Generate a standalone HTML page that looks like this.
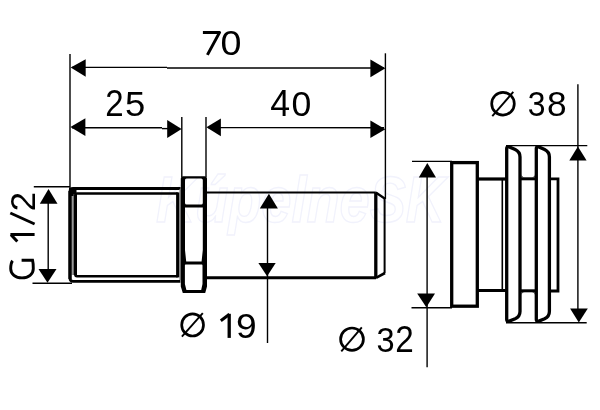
<!DOCTYPE html>
<html><head><meta charset="utf-8"><style>
html,body{margin:0;padding:0;background:#fff;}
svg{display:block;will-change:transform;}
text{font-family:"Liberation Sans",sans-serif;font-size:36px;fill:#000;}
</style></head><body>
<svg width="600" height="410" viewBox="0 0 600 410">
<rect width="600" height="410" fill="#fff"/>

<!-- watermark -->
<text x="156" y="222" textLength="289" lengthAdjust="spacingAndGlyphs" style="font-size:64px;font-weight:bold;font-style:italic;fill:none;stroke:#f1f2fc;stroke-width:1.4">KúpelneSK</text>

<!-- ===== dimension lines (thin) ===== -->
<g stroke="#000" stroke-width="1.4" fill="none">
  <!-- 70 -->
  <line x1="72" y1="67.4" x2="167" y2="67.4"/>
  <line x1="167" y1="68" x2="384" y2="68"/>
  <!-- 25 -->
  <line x1="72" y1="127.7" x2="162" y2="127.7"/>
  <line x1="162" y1="128.6" x2="180" y2="128.6"/>
  <!-- 40 -->
  <line x1="208" y1="127.6" x2="384" y2="127.7"/>
  <!-- extension verticals -->
  <line x1="70" y1="54" x2="70" y2="188"/>
  <line x1="385.4" y1="53.3" x2="385.4" y2="199"/>
  <line x1="181.8" y1="117" x2="181.8" y2="177"/>
  <line x1="206" y1="117" x2="206" y2="177"/>
  <!-- G 1/2 -->
  <line x1="33.8" y1="186.8" x2="70" y2="186.8"/>
  <line x1="32.5" y1="283.3" x2="72" y2="283.3"/>
  <line x1="48.2" y1="195" x2="48.2" y2="276"/>
  <!-- O19 -->
  <line x1="267.5" y1="200" x2="267.5" y2="343"/>
  <!-- O32 -->
  <line x1="412" y1="161.4" x2="452" y2="161.4"/>
  <line x1="411.5" y1="307.7" x2="452" y2="307.7"/>
  <line x1="427.1" y1="170" x2="427.1" y2="367.3"/>
  <!-- O38 -->
  <line x1="506" y1="145.6" x2="587.3" y2="145.6"/>
  <line x1="506" y1="322.8" x2="586.7" y2="322.8"/>
  <line x1="577.9" y1="84.3" x2="577.9" y2="316"/>
</g>

<!-- ===== arrows ===== -->
<g fill="#000">
  <!-- 70 -->
  <polygon points="70.7,67.5 85.7,59.2 85.7,76.8"/>
  <polygon points="385.4,68.2 370.4,59.4 370.4,77.3"/>
  <!-- 25 / 40 -->
  <polygon points="70.4,126.9 85.4,118.3 85.4,135.9"/>
  <polygon points="181.6,128.9 167.2,119.9 167.2,137.9"/>
  <polygon points="206.4,127.3 220.9,118.4 220.9,136.3"/>
  <polygon points="385.4,129.2 370.4,120.5 370.4,138"/>
  <!-- G 1/2 -->
  <polygon points="48.5,189 39.8,203.7 57.5,203.7"/>
  <polygon points="47.5,282.8 38.5,269 56.5,269"/>
  <!-- O19 -->
  <polygon points="268.9,193.8 259.8,208.6 277.9,208.6"/>
  <polygon points="267.1,276.3 258.4,263.1 275.7,263.1"/>
  <!-- O32 -->
  <polygon points="427.3,163.1 418.8,177.5 436,177.5"/>
  <polygon points="426.3,307.3 417.2,293.5 435,293.5"/>
  <!-- O38 -->
  <polygon points="577.9,146.5 569.3,160.5 586.6,160.5"/>
  <polygon points="578.8,322.6 570.1,308.5 587.8,308.5"/>
</g>

<!-- ===== text ===== -->
<text transform="translate(220.39,55.3) scale(1.047,1)">0</text>
<text transform="translate(105.15,115.7) scale(0.918,1)">2</text>
<text transform="translate(124.94,115.7) scale(1.011,1)">5</text>
<text transform="translate(270.29,115.7) scale(0.991,1)">4</text>
<text transform="translate(291.38,115.9) scale(0.990,1)">0</text>
<text transform="translate(236.04,337.5) scale(1.033,1)">9</text>
<text transform="translate(376.40,351.8) scale(0.904,1)">3</text>
<text transform="translate(395.24,351.7) scale(0.924,1)">2</text>
<text transform="translate(527.72,115.9) scale(0.887,1)">3</text>
<text transform="translate(546.99,115.9) scale(0.981,1)">8</text>

<g stroke="#000" fill="none">
  <!-- 1 of 19 -->
  <line x1="229.2" y1="313.8" x2="229.2" y2="337.9" stroke-width="3.3"/>
  <line x1="220.8" y1="320.8" x2="229.4" y2="314.2" stroke-width="3"/>
  <!-- diameter symbols -->
  <ellipse cx="192.6" cy="324.9" rx="10.9" ry="11.1" stroke-width="2.7"/>
  <line x1="181.9" y1="336.6" x2="202.8" y2="313.2" stroke-width="1.9"/>
  <ellipse cx="352" cy="339.2" rx="11.4" ry="11.2" stroke-width="2.7"/>
  <line x1="341.3" y1="351.4" x2="361.8" y2="327.4" stroke-width="1.9"/>
  <ellipse cx="503" cy="103.7" rx="11.3" ry="11.4" stroke-width="2.7"/>
  <line x1="492.3" y1="116.1" x2="513.3" y2="91.9" stroke-width="1.9"/>
  <!-- 7 of 70 -->
  <path d="M202.9,32.4 L219.6,32.4 L207.4,54.9" stroke-width="3" stroke-linejoin="round"/>
  <!-- rotated G (Frutiger style) -->
  <path d="M12.6,260.8 C11.1,262.6 10.7,265.2 10.7,268.8 C10.7,274 15.5,277.9 22,277.9 C28.5,277.9 33.3,274 33.3,268.8 C33.3,265.2 33.1,262.2 32.6,260.3 L21.6,260.3" stroke-width="2.9" stroke-linejoin="miter"/>
  <!-- rotated 1 and / -->
  <line x1="10.4" y1="234.5" x2="34.6" y2="234.5" stroke-width="3"/>
  <line x1="11" y1="234.8" x2="17.3" y2="241.6" stroke-width="3"/>
  <line x1="10.3" y1="213" x2="34.6" y2="224.1" stroke-width="2.8"/>
</g>

<g transform="translate(34.8,279.3) rotate(-90)">
  <text transform="translate(68.17,0) scale(0.988,1)" style="font-size:35px">2</text>
</g>

<!-- ===== object outlines (thick) ===== -->
<g stroke="#000" fill="none" stroke-linejoin="miter">
  <!-- thread -->
  <rect x="71.5" y="193" width="2.2" height="82" fill="#999" stroke="none"/>
  <path d="M180.6,188.5 L73,188.5 Q70,188.5 70,191.5 L70,278.3 Q70,281.3 73,281.3 L180.4,281.3" stroke-width="2.8"/>
  <line x1="70" y1="191" x2="70" y2="279" stroke-width="3.2"/>
  <path d="M177.8,193.6 L77,193.6 Q75.3,193.6 75.3,195.3 L75.3,274.5 Q75.3,276.2 77,276.2 L177.8,276.2" stroke-width="2.5"/>
  <line x1="75.3" y1="195" x2="75.3" y2="275" stroke-width="3.4"/>
  <line x1="177.8" y1="192.4" x2="177.8" y2="277.4" stroke-width="3.4"/>
  <path d="M69,188 L76.5,188 L76.5,194.5 L73.5,194.5 L73.5,196 L69,196 Z" fill="#000" stroke="none"/>
  <rect x="179.4" y="189" width="1.8" height="91" fill="#8a8a8a" stroke="none"/>
  <!-- nut -->
  <path fill="#000" stroke="none" fill-rule="evenodd" d="M183.3,176.3 L204.5,176.3 Q207,176.3 207,178.8 L207,286.5 L205.2,292.9 L182.8,292.9 L180.8,286.5 L180.8,178.8 Q180.8,176.3 183.3,176.3 Z
   M186.6,178.4 L201.2,178.4 Q202.8,178.4 202.8,180 L202.8,203 Q202.8,204.6 201.2,204.6 L186.6,204.6 Q185,204.6 185,203 L185,180 Q185,178.4 186.6,178.4 Z
   M185,207.4 L202.8,207.4 L202.8,250 L201.6,261.6 L186.2,261.6 L185,250 Z
   M185.6,264.4 L201.8,264.4 Q202.5,264.4 202.5,265.5 L202.5,284 L201.2,290 L186.4,290 L184.9,284 L184.9,265.2 Q184.9,264.4 185.6,264.4 Z"/>
  <!-- pipe -->
  <line x1="206" y1="192.5" x2="375.8" y2="192.5" stroke-width="1.9"/>
  <line x1="206" y1="277.8" x2="376" y2="277.8" stroke-width="3"/>
  <line x1="375.8" y1="192.6" x2="385" y2="198.7" stroke-width="2.4"/>
  <line x1="376" y1="277.8" x2="385" y2="273" stroke-width="2.6"/>
  <line x1="375.8" y1="192.6" x2="375.8" y2="277.8" stroke-width="3.3"/>
  <line x1="384.6" y1="198.7" x2="384.6" y2="273" stroke-width="2"/>

  <!-- right fitting: flange 1 -->
  <rect x="451.7" y="162.6" width="25.6" height="143.6" stroke-width="3.3"/>
  <!-- neck -->
  <line x1="477" y1="179" x2="507" y2="179" stroke-width="3.2"/>
  <line x1="477" y1="290.5" x2="507" y2="290.5" stroke-width="3"/>
  <line x1="502.3" y1="180" x2="502.3" y2="289.5" stroke-width="1.6"/>
  <!-- lip 2 -->
  <path d="M506.7,319.5 L506.7,148.5 Q506.7,146.5 508.7,146.7 L515.2,149.6 Q520,152 520,157 L520,311.5 Q520,316.5 515.2,318.7 L508.7,321.3 Q506.7,321.5 506.7,319.5 Z" stroke-width="3.3"/>
  <!-- connectors -->
  <line x1="520" y1="178.8" x2="536.3" y2="178.8" stroke-width="3"/>
  <line x1="520" y1="290.8" x2="536.3" y2="290.8" stroke-width="3"/>
  <path d="M521.6,174.3 Q521.6,177.3 524.6,177.3 L521.6,177.3 Z M534.7,174.3 Q534.7,177.3 531.7,177.3 L534.7,177.3 Z M521.6,295.3 Q521.6,292.3 524.6,292.3 L521.6,292.3 Z M534.7,295.3 Q534.7,292.3 531.7,292.3 L534.7,292.3 Z" fill="#000" stroke="none"/>
  <!-- lip 3 -->
  <path d="M536.3,319.5 L536.3,148.5 Q536.3,146.5 538.3,146.7 L544.6,149.6 Q549.4,152 549.4,157 L549.4,311.5 Q549.4,316.5 544.6,318.7 L538.3,321.3 Q536.3,321.5 536.3,319.5 Z" stroke-width="3.3"/>
  <!-- end piece -->
  <path d="M549.4,178.8 L558,178.8 L558,291 L549.4,291" stroke-width="2.8"/>
</g>
</svg>
</body></html>
